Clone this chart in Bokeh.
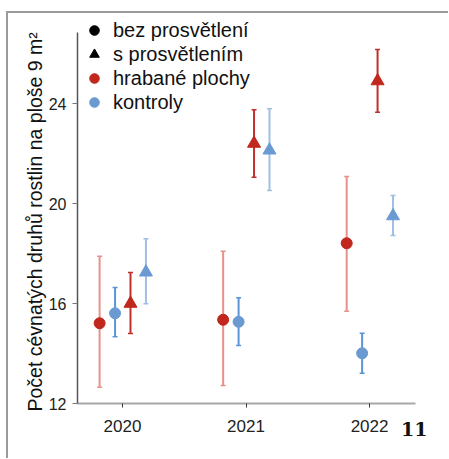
from bokeh.plotting import figure
from bokeh.models import (ColumnDataSource, Whisker, TeeHead, FixedTicker, Legend,
                          LegendItem, Title, Range1d)
from bokeh.embed import file_html
from bokeh.resources import INLINE

# ---- data ----
years = [2020, 2021, 2022]
xtick_labels = ["2020", "2021", "2022"]
ytick_values = [12, 16, 20, 24]
y_axis_top = 26.84

# hrabané plochy, bez prosvětlení (red circles)
hrab_bez = [15.21, 15.35, 18.41]
hrab_bez_lo = [12.65, 12.72, 15.69]
hrab_bez_hi = [17.89, 18.09, 21.08]
# kontroly, bez prosvětlení (blue circles)
kontr_bez = [15.61, 15.27, 14.01]
kontr_bez_lo = [14.67, 14.32, 13.21]
kontr_bez_hi = [16.64, 16.23, 14.81]
# hrabané plochy, s prosvětlením (red triangles)
hrab_s = [16.0, 22.4, 24.9]
hrab_s_lo = [14.8, 21.05, 23.65]
hrab_s_hi = [17.24, 23.75, 26.16]
# kontroly, s prosvětlením (blue triangles)
kontr_s = [17.25, 22.13, 19.5]
kontr_s_lo = [15.99, 20.52, 18.72]
kontr_s_hi = [18.59, 23.79, 20.32]

dodge = [-0.185, -0.06, 0.065, 0.19]

legend_labels = ["bez prosvětlení", "s prosvětlením", "hrabané plochy", "kontroly"]
y_title = "Počet cévnatých druhů rostlin na ploše 9 m²"
page_number = "11"

RED = "#c1271d"
BLUE = "#6b9ad3"

p = figure(width=448, height=458, output_backend="svg", toolbar_location=None,
           x_range=Range1d(2019.636, 2022.372), y_range=Range1d(12, 27.4),
           min_border_left=77, min_border_right=33, min_border_top=18,
           min_border_bottom=55)
p.outline_line_color = None
p.xgrid.visible = False
p.ygrid.visible = False
p.background_fill_alpha = 0
p.border_fill_alpha = 0
p.styles = {
    "background": "linear-gradient(#9a9a9a, #9a9a9a) 6px 11px / 2px 100% no-repeat, "
                  "linear-gradient(#9a9a9a, #9a9a9a) 6px 11px / 100% 2px no-repeat, white"
}

series = [
    (hrab_bez, hrab_bez_lo, hrab_bez_hi, dodge[0], "circle", RED, "#e8908a", 11),
    (kontr_bez, kontr_bez_lo, kontr_bez_hi, dodge[1], "circle", BLUE, "#5a95d8", 11),
    (hrab_s, hrab_s_lo, hrab_s_hi, dodge[2], "triangle", RED, "#c0302a", 13),
    (kontr_s, kontr_s_lo, kontr_s_hi, dodge[3], "triangle", BLUE, "#a0bfe6", 13),
]

sources = []
for vals, lo, hi, off, marker, col, barcol, size in series:
    xs = [y + off for y in years]
    src = ColumnDataSource(dict(x=xs, y=vals, lo=lo, hi=hi))
    sources.append(src)
    w = Whisker(base="x", upper="hi", lower="lo", source=src, dimension="height",
                line_color=barcol, line_width=2,
                upper_head=TeeHead(size=5, line_color=barcol, line_width=1.5),
                lower_head=TeeHead(size=5, line_color=barcol, line_width=1.5))
    p.add_layout(w)
    p.scatter("x", "y", source=src, marker=marker, size=size,
              fill_color=col, line_color=col)

# legend key renderers (zero size on the plot; the legend draws its own key glyphs)
src0 = sources[0]
r1 = p.scatter("x", "y", source=src0, marker="circle", size=0, fill_color="black", line_color="black")
r2 = p.scatter("x", "y", source=src0, marker="triangle", size=0, fill_color="black", line_color="black")
r3 = p.scatter("x", "y", source=src0, marker="circle", size=0, fill_color=RED, line_color=RED)
r4 = p.scatter("x", "y", source=src0, marker="circle", size=0, fill_color=BLUE, line_color=BLUE)
legend = Legend(items=[LegendItem(label=legend_labels[0], renderers=[r1], index=0),
                       LegendItem(label=legend_labels[1], renderers=[r2], index=0),
                       LegendItem(label=legend_labels[2], renderers=[r3], index=0),
                       LegendItem(label=legend_labels[3], renderers=[r4], index=0)],
                location=(3, 289), glyph_width=28, glyph_height=24, spacing=-1,
                padding=0, margin=0, label_standoff=5, label_height=24,
                label_text_font="Liberation Sans", label_text_font_size="20px",
                label_text_color="#111111",
                border_line_alpha=0, background_fill_alpha=0)
p.add_layout(legend, "center")

# axes
p.xaxis.ticker = FixedTicker(ticks=years)
p.xaxis.major_label_overrides = {y: l for y, l in zip(years, xtick_labels)}
p.xaxis.minor_tick_line_color = None
p.xaxis.axis_line_color = "#a8a8a8"
p.xaxis.axis_line_width = 2
p.xaxis.major_tick_line_color = "#333333"
p.xaxis.major_tick_in = 0
p.xaxis.major_tick_out = 4
p.xaxis.major_label_standoff = 12
p.xaxis.major_label_text_font = "Liberation Sans"
p.xaxis.major_label_text_font_size = "17px"
p.xaxis.major_label_text_color = "#222222"

p.yaxis.bounds = (ytick_values[0], y_axis_top)
p.yaxis.ticker = FixedTicker(ticks=ytick_values)
p.yaxis.minor_tick_line_color = None
p.yaxis.axis_line_color = "#555555"
p.yaxis.axis_line_width = 1.5
p.yaxis.major_tick_line_color = "#777777"
p.yaxis.major_tick_in = 0
p.yaxis.major_tick_out = 5
p.yaxis.major_label_standoff = 6
p.yaxis.major_label_text_font = "Liberation Sans"
p.yaxis.major_label_text_font_size = "16px"
p.yaxis.major_label_text_color = "#222222"
# trailing no-break spaces centre the title on the drawn axis rather than the frame
p.yaxis.axis_label = y_title + "\u00a0" * 4
p.yaxis.axis_label_text_font = "Liberation Sans"
p.yaxis.axis_label_text_font_style = "normal"
p.yaxis.axis_label_text_font_size = "19.5px"
p.yaxis.axis_label_text_color = "#111111"
p.yaxis.axis_label_standoff = 0

page_no = Title(text=page_number, align="right", offset=-12, standoff=-26,
                vertical_align="top",
                text_font="DejaVu Serif", text_font_style="bold",
                text_font_size="19px", text_color="#111111")
p.add_layout(page_no, "below")

open("out.html", "w").write(file_html(p, INLINE))
